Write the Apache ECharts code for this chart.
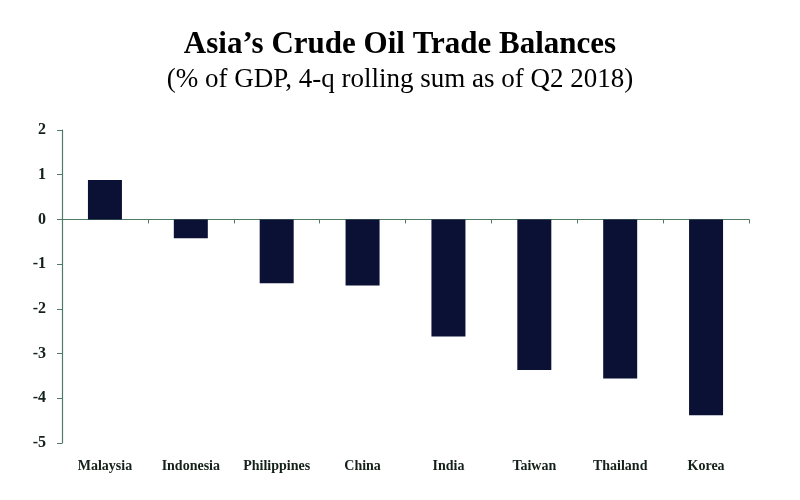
<!DOCTYPE html>
<html>
<head>
<meta charset="utf-8">
<script src="https://cdn.jsdelivr.net/npm/echarts@6/dist/echarts.min.js"></script>
<style>html,body{margin:0;padding:0;background:#fff;}#c{width:800px;height:500px;}</style>
</head>
<body>
<div id="c"></div>
<script>
const titleText = 'Asia\u2019s Crude Oil Trade Balances';
const subtitleText = '(% of GDP, 4-q rolling sum as of Q2 2018)';
const categories = ['Malaysia', 'Indonesia', 'Philippines', 'China', 'India', 'Taiwan', 'Thailand', 'Korea'];
const balances = [0.88, -0.42, -1.43, -1.48, -2.62, -3.37, -3.56, -4.38];
const yMin = -5, yMax = 2, yStep = 1;

const axisColor = '#4f7a66';
const textColor = '#14201a';
const serif = '"Liberation Serif", "Times New Roman", serif';

const chart = echarts.init(document.getElementById('c'), null, {renderer: 'canvas'});
chart.setOption({
  backgroundColor: '#ffffff',
  animation: false,
  title: [
    {text: titleText, left: 'center', top: 24,
     textStyle: {fontFamily: serif, fontWeight: 'bold', fontSize: 31, color: '#000'}},
    {text: subtitleText, left: 'center', top: 61,
     textStyle: {fontFamily: serif, fontWeight: 'normal', fontSize: 27, color: '#000'}}
  ],
  grid: {left: 62, right: 51, top: 130, bottom: 57, containLabel: false},
  xAxis: [
    {type: 'category', data: categories, position: 'bottom',
     axisLine: {show: false, onZero: false}, axisTick: {show: false},
     axisLabel: {interval: 0, hideOverlap: false, margin: 16, color: textColor, fontFamily: serif, fontWeight: 'bold', fontSize: 14}},
    {type: 'category', data: categories, position: 'bottom',
     axisLine: {show: true, onZero: true, lineStyle: {color: axisColor, width: 1.2}},
     axisTick: {show: true, interval: 0, length: 4, lineStyle: {color: axisColor}},
     axisLabel: {show: false}}
  ],
  yAxis: {
    type: 'value', min: yMin, max: yMax, interval: yStep,
    axisLine: {show: true, onZero: false, lineStyle: {color: axisColor, width: 1.2}},
    axisTick: {show: true, length: 5, lineStyle: {color: axisColor}},
    splitLine: {show: false},
    axisLabel: {margin: 16, color: textColor, fontFamily: serif, fontWeight: 'bold', fontSize: 16}
  },
  series: [{
    type: 'bar', xAxisIndex: 0, data: balances, barWidth: 34,
    itemStyle: {color: '#0b1035'}
  }]
});
</script>
</body>
</html>
